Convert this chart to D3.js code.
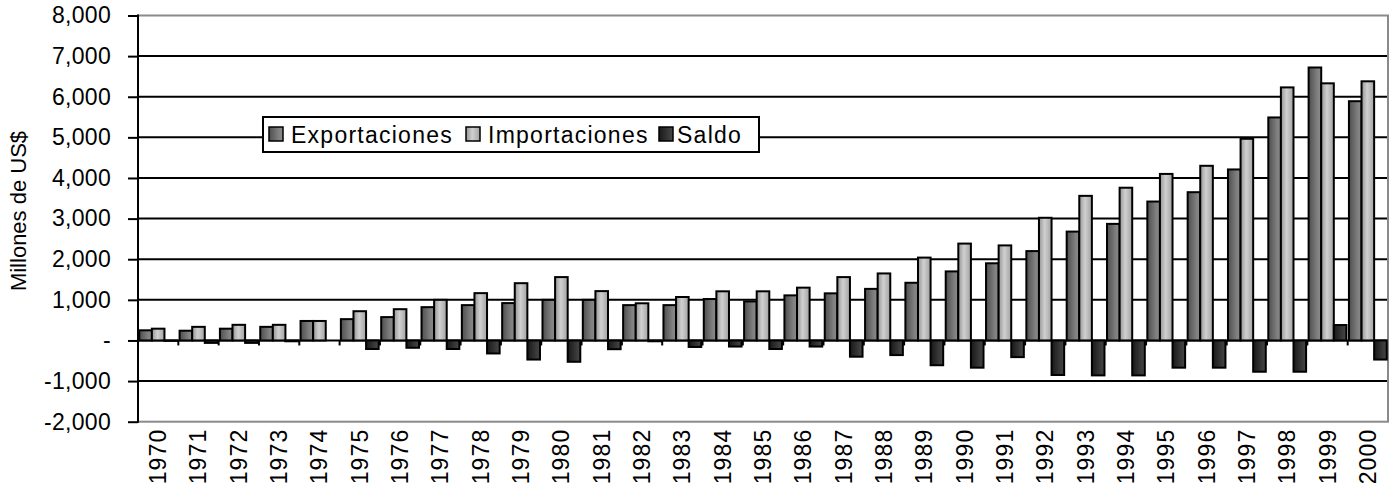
<!DOCTYPE html>
<html lang="es">
<head>
<meta charset="UTF-8">
<script src="https://cdn.jsdelivr.net/npm/d3@7"></script>
<style>
  body { margin: 0; background: #fff; }
  svg text { font-family: Arial, "Liberation Sans", sans-serif; fill: #000; }
  .grid line { stroke: #000; stroke-width: 2px; }
  .yaxis path { display: none; }
  .yaxis line { stroke: #000; stroke-width: 2px; }
  .yaxis text { font-size: 23px; letter-spacing: 0.3px; }
  .xlab { font-size: 23px; letter-spacing: 1.1px; }
  .legend text { font-size: 23px; letter-spacing: 1.25px; }
  .bar { stroke: #000; stroke-width: 2px; }
</style>
</head>
<body>
<script>
// anios y series (millones de US$)
var years = d3.range(1970, 2001).map(String);
var exportaciones = [250, 240, 290, 335, 480, 525, 575, 820, 870, 920, 1000, 1000, 870, 870, 1020,
                     960, 1110, 1160, 1270, 1420, 1700, 1900, 2200, 2680, 2870, 3420, 3650, 4210, 5490, 6720, 5890];
var importaciones = [290, 335, 385, 385, 480, 720, 770, 1000, 1165, 1410, 1560, 1215, 915, 1070, 1210,
                     1210, 1300, 1560, 1650, 2040, 2385, 2340, 3020, 3560, 3760, 4100, 4300, 4965, 6230, 6330, 6380];
var saldo = [-10, -60, -60, -20, 0, -210, -180, -210, -320, -470, -525, -215, -20, -160, -150,
             -210, -150, -400, -360, -610, -670, -410, -850, -860, -860, -670, -670, -770, -770, 380, -470];
var yTicks = d3.range(-2000, 8001, 1000);

var keys = ["Exportaciones", "Importaciones", "Saldo"];
var seriesVals = [exportaciones, importaciones, saldo];
var rows = years.map(function(yr, i) {
    return { year: yr, vals: keys.map(function(k, j) { return { key: k, v: seriesVals[j][i] }; }) };
});

var width = 1389, height = 485;
var plotLeft = 138, plotRight = 1388, plotTop = 15.5, plotBottom = 421.7;

var svg = d3.select('body').append('svg')
    .attr('width', width)
    .attr('height', height);

/* gradients for the bars */
var defs = svg.append('defs');
function grad(id, stops) {
    var g = defs.append('linearGradient').attr('id', id)
        .attr('x1', '0%').attr('x2', '100%').attr('y1', '0%').attr('y2', '0%');
    stops.forEach(function(s) { g.append('stop').attr('offset', s[0]).attr('stop-color', s[1]); });
}
grad('gExp', [['0%', '#4e4e4e'], ['70%', '#808080'], ['100%', '#8a8a8a']]);
grad('gImp', [['0%', '#959595'], ['45%', '#d0d0d0'], ['100%', '#a2a2a2']]);
grad('gSal', [['0%', '#181818'], ['70%', '#3a3a3a'], ['100%', '#464646']]);
var fills = { Exportaciones: 'url(#gExp)', Importaciones: 'url(#gImp)', Saldo: 'url(#gSal)' };

/* scales */
var x0 = d3.scaleBand().domain(years).range([plotLeft, plotRight]).paddingInner(0).paddingOuter(0);
var x1 = d3.scaleBand().domain(keys).range([0, x0.bandwidth()]).paddingInner(0).paddingOuter(0.1);
var y = d3.scaleLinear().domain([-2000, 8000]).range([plotBottom, plotTop]);

// gridlines
svg.append('g').attr('class', 'grid')
    .selectAll('line')
    .data(yTicks.filter(function(d) { return d > -2000 && d < 8000; }))
    .enter().append('line')
    .attr('x1', plotLeft).attr('x2', plotRight)
    .attr('y1', function(d) { return y(d); })
    .attr('y2', function(d) { return y(d); });

// plot border (grey)
svg.append('rect')
    .attr('x', plotLeft).attr('y', plotTop)
    .attr('width', plotRight - plotLeft).attr('height', plotBottom - plotTop)
    .attr('fill', 'none').attr('stroke', '#8a8a8a').attr('stroke-width', 2);

// bars
var groups = svg.append('g').selectAll('g')
    .data(rows)
    .enter().append('g')
    .attr('transform', function(d) { return 'translate(' + x0(d.year) + ',0)'; });

groups.selectAll('rect')
    .data(function(d) { return d.vals; })
    .enter().append('rect')
    .attr('class', 'bar')
    .attr('x', function(d) { return x1(d.key); })
    .attr('width', x1.bandwidth())
    .attr('y', function(d) { return y(Math.max(0, d.v)); })
    .attr('height', function(d) { return Math.abs(y(d.v) - y(0)); })
    .attr('fill', function(d) { return fills[d.key]; });

// category ticks on the zero line
svg.append('g').selectAll('line')
    .data(years.slice(1))
    .enter().append('line')
    .attr('x1', function(d) { return x0(d); })
    .attr('x2', function(d) { return x0(d); })
    .attr('y1', y(0)).attr('y2', y(0) + 5)
    .attr('stroke', '#000').attr('stroke-width', 2);

// y axis (hyphen instead of unicode minus, "-" for zero)
var yAxis = d3.axisLeft(y)
    .tickValues(yTicks)
    .tickSize(10)
    .tickPadding(17)
    .tickFormat(function(d) { return d === 0 ? '-' : d3.format(',')(d).replace('\u2212', '-'); });
svg.append('g').attr('class', 'yaxis')
    .attr('transform', 'translate(' + plotLeft + ',0)')
    .call(yAxis);
svg.append('line')
    .attr('x1', plotLeft).attr('x2', plotLeft)
    .attr('y1', plotTop - 1).attr('y2', plotBottom + 1)
    .attr('stroke', '#000').attr('stroke-width', 2);

// year labels
svg.append('g').selectAll('text')
    .data(years)
    .enter().append('text')
    .attr('class', 'xlab')
    .attr('transform', function(d) {
        return 'translate(' + (x0(d) + x0.bandwidth() / 2 + 8) + ',' + (plotBottom + 7) + ') rotate(-90)';
    })
    .attr('text-anchor', 'end')
    .text(function(d) { return d; });

// y axis title
svg.append('text')
    .attr('transform', 'translate(26,211) rotate(-90)')
    .attr('text-anchor', 'middle')
    .style('font-size', '22px')
    .text('Millones de US$');

// legend
var legend = svg.append('g').attr('class', 'legend');
legend.append('rect')
    .attr('x', 263).attr('y', 117).attr('width', 496).attr('height', 35)
    .attr('fill', '#fff').attr('stroke', '#000').attr('stroke-width', 2);
var legX = [269, 466, 659];
var items = legend.selectAll('g.item')
    .data(keys)
    .enter().append('g').attr('class', 'item')
    .attr('transform', function(d, i) { return 'translate(' + legX[i] + ',0)'; });
items.append('rect')
    .attr('x', 0).attr('y', 127).attr('width', 14).attr('height', 14)
    .attr('fill', function(d) { return fills[d]; })
    .attr('stroke', '#000').attr('stroke-width', 1.5);
items.append('text')
    .attr('x', function(d, i) { return i === 2 ? 18 : 22; })
    .attr('y', 143)
    .text(function(d) { return d; });
</script>
</body>
</html>
